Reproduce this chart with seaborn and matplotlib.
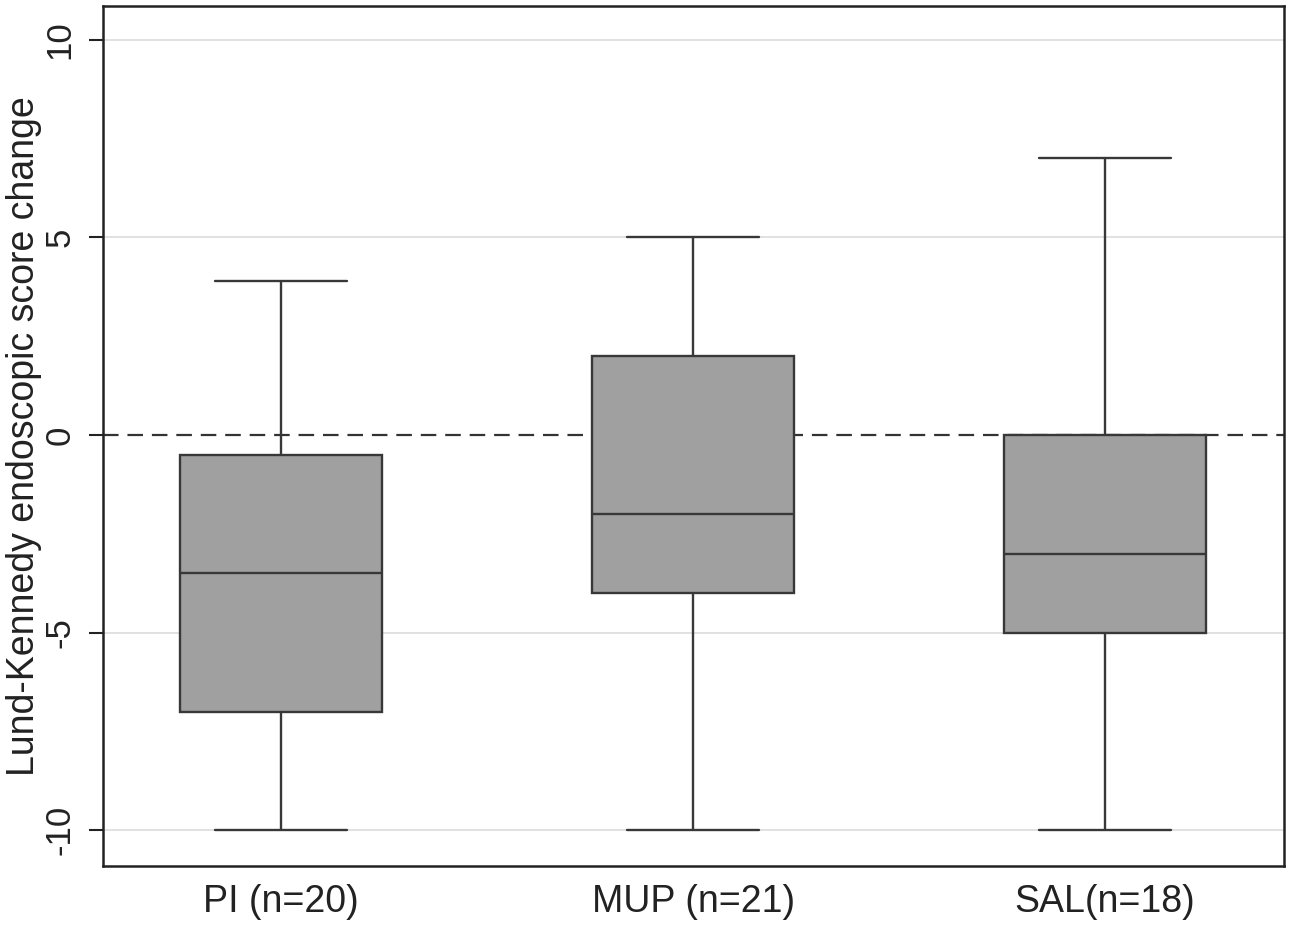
import numpy as np
import pandas as pd
import matplotlib
matplotlib.use("Agg")
import matplotlib.pyplot as plt
import seaborn as sns

# ---- data (five-number summaries) ----
categories = ["PI (n=20)", "MUP (n=21)", "SAL(n=18)"]
pi_values = [-10, -7, -3.5, -0.5, 3.9]
mup_values = [-10, -4, -2, 2, 5]
sal_values = [-10, -5, -3, 0, 7]
y_ticks = [-10, -5, 0, 5, 10]
y_label = "Lund-Kennedy endoscopic score change"

df = pd.DataFrame({
    "group": np.repeat(categories, 5),
    "value": pi_values + mup_values + sal_values,
})

sns.set_theme(style="ticks")
plt.rcParams["font.family"] = ["Liberation Sans", "DejaVu Sans"]

fig = plt.figure(figsize=(12.92, 9.26), dpi=100)
ax = fig.add_axes([103 / 1292, 1 - 866 / 926, 1181 / 1292, 860 / 926])

line_col = "#383838"
sns.boxplot(
    data=df, x="group", y="value", order=categories, ax=ax,
    width=0.49, whis=np.inf, color="#a0a0a0", saturation=1,
    linecolor=line_col, linewidth=1.7, capwidths=0.32,
    boxprops=dict(zorder=3), whiskerprops=dict(zorder=3),
    capprops=dict(zorder=3), medianprops=dict(zorder=4),
)

# gridlines and zero reference line
for t in y_ticks:
    if t != 0:
        ax.axhline(t, color="#dcdcdc", lw=1.2, zorder=0.5)
ax.axhline(0, color="#333333", lw=1.6, dashes=(7, 4), zorder=1)

ax.set_xlim(-0.432, 2.434)
ax.set_ylim(-10.91, 10.86)
ax.set_yticks(y_ticks)
ax.set_yticklabels([str(t) for t in y_ticks])
ax.set_xlabel("")
ax.set_ylabel(y_label, fontsize=27, color="#222222")
ax.yaxis.set_label_coords(-0.052, 0.5)

for s in ax.spines.values():
    s.set_color("#222222")
    s.set_linewidth(1.8)
    s.set_visible(True)

ax.tick_params(axis="y", left=True, direction="out", length=10, width=1.5,
               color="#222222", labelsize=25, labelcolor="#222222", pad=9,
               labelrotation=90)
for lab in ax.get_yticklabels():
    lab.set_va("center")
ax.tick_params(axis="x", bottom=False, length=0, labelsize=27,
               labelcolor="#222222", pad=13)

fig.savefig("out.png", dpi=100)
